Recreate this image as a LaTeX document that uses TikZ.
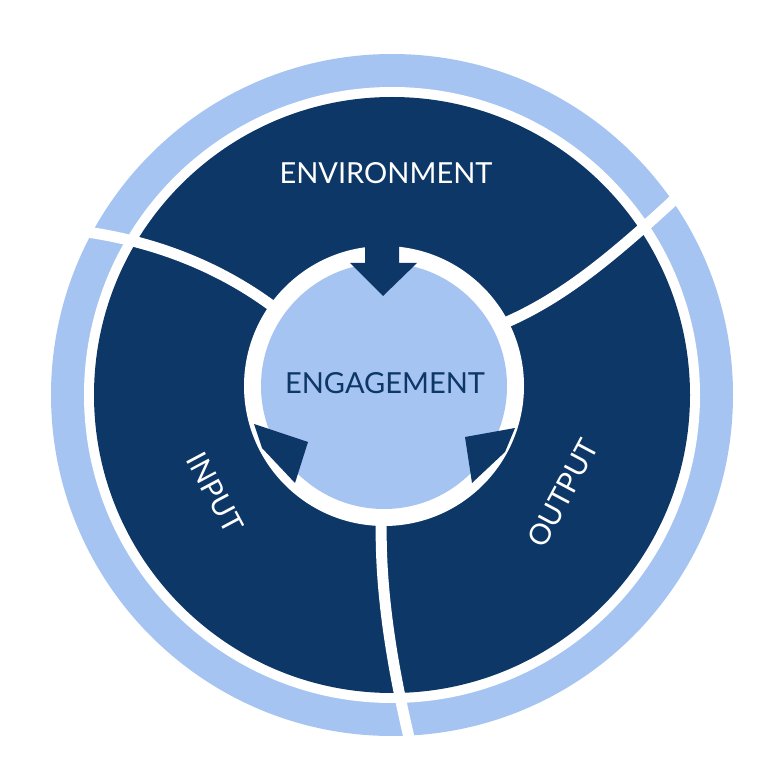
\documentclass[tikz,border=0pt]{standalone}
\usepackage{fontspec}
\setmainfont{Lato}
\begin{document}
\begin{tikzpicture}[x=1pt,y=-1pt]
\definecolor{lb}{HTML}{A6C4F2}\definecolor{db}{HTML}{0D3766}
\tikzset{div/.style={white,line width=11pt,line cap=butt},
 lab/.style={font=\fontsize{29}{31}\selectfont,white},
 arr/.style={fill=db}}
\useasboundingbox (0,0) rectangle (780,770);
\coordinate (C) at (392,395);
\fill[lb] (C) circle (341);
\fill[white] (C) circle (308);
\fill[db] (C) circle (298);
% dividers
\draw[div] (50,228) .. controls (150,235) and (230,270) .. (290,320);
\draw[div] (690,185) .. controls (610,260) and (560,300) .. (500,325);
\draw[div] (383,490) .. controls (375,580) and (395,680) .. (412,750);
\fill[white] (384,386) circle (140);
\fill[lb] (384,386) circle (123);
% arrows
\fill[arr] (365,240) -- (399,240) -- (399,263) -- (417,263) -- (383,296) -- (350,263) -- (365,263) -- cycle;
\fill[arr] (254,424) -- (308,442) -- (295,483) -- (262,448) -- cycle;
\fill[arr] (465,437) -- (515,428) -- (505,452) -- (472,483) -- cycle;
\node[lab] (env) at (386,173) {ENVIRONMENT};
\node[lab,text=db] (eng) at (385,383) {ENGAGEMENT};
\node[lab,rotate=-62] (inp) at (215,493) {INPUT};
\node[lab,rotate=62] (out) at (563,493) {OUTPUT};
\end{tikzpicture}
\end{document}
